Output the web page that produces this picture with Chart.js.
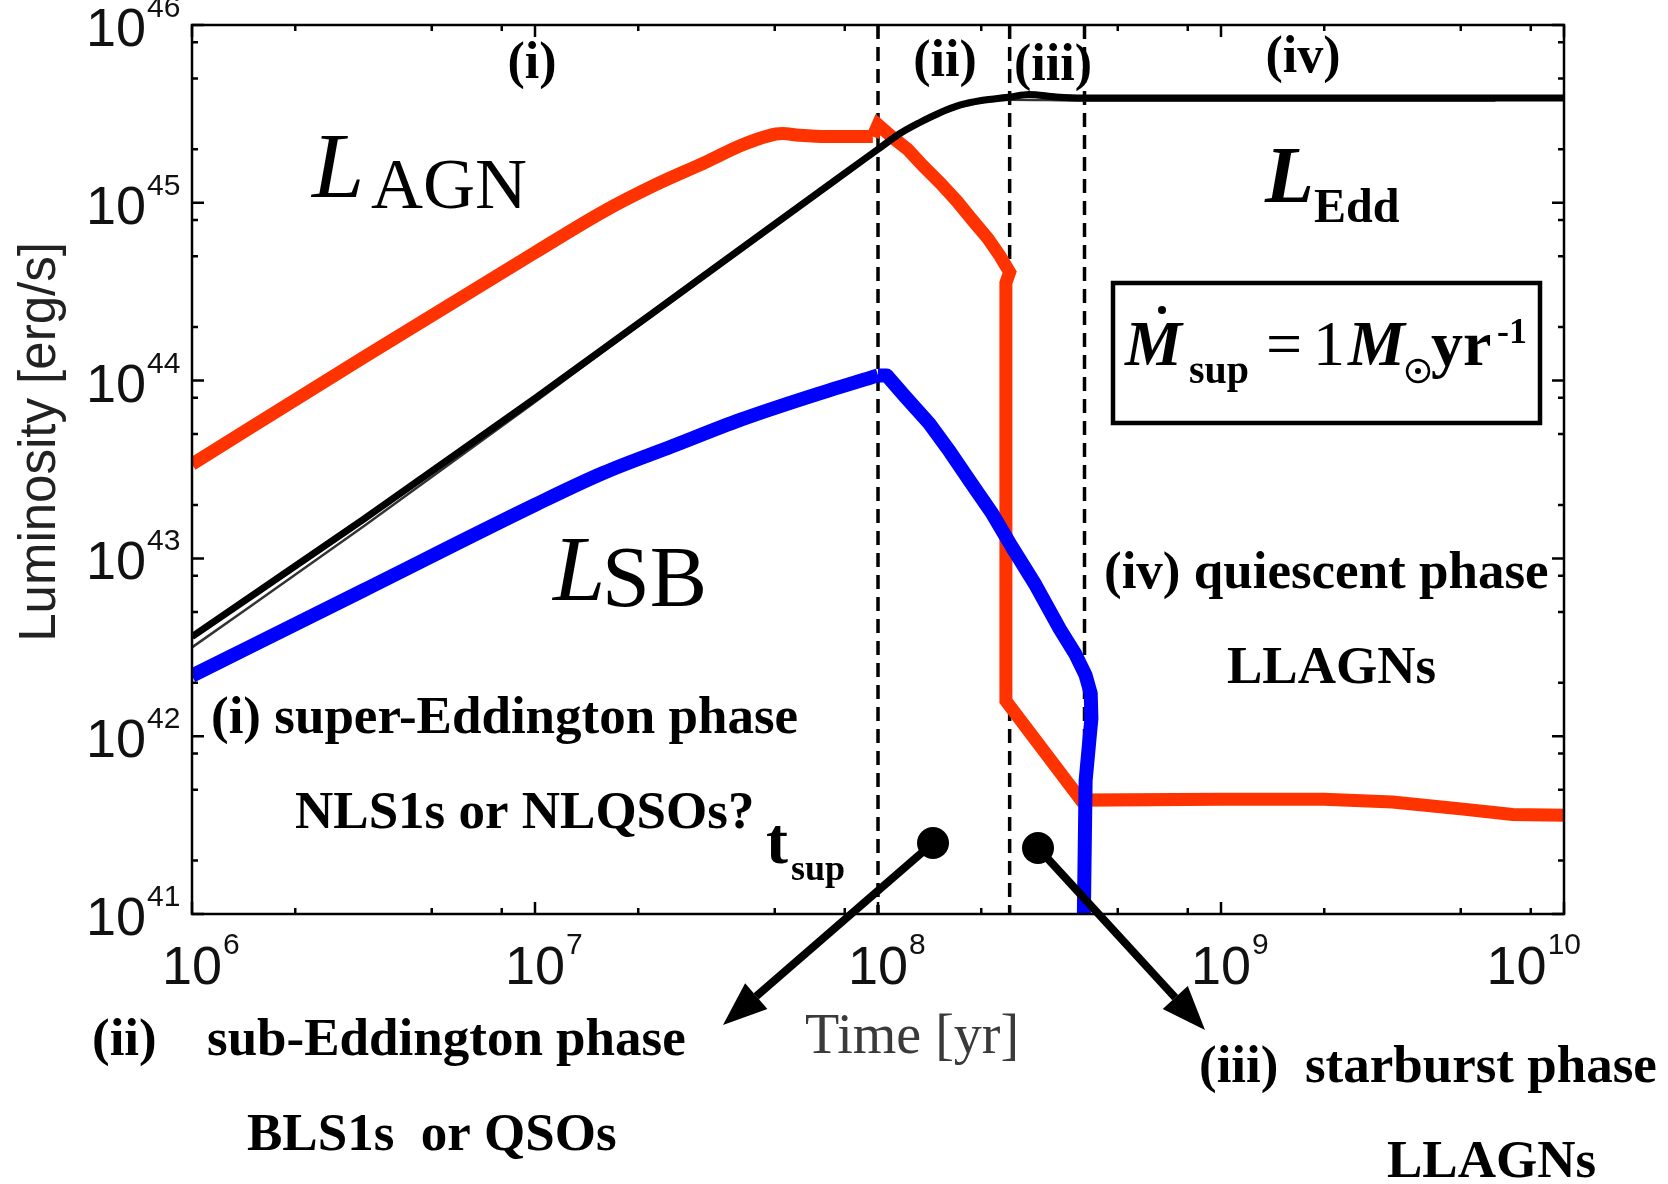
<!DOCTYPE html>
<html>
<head>
<meta charset="utf-8">
<script src="https://cdn.jsdelivr.net/npm/chart.js"></script>
<style>
  body { margin: 0; background: #fff; }
  canvas { display: block; }
</style>
</head>
<body>
<canvas id="myChart" width="1668" height="1184"></canvas>
<script>
// valores (tempo em anos, luminosidade em erg/s)
// L_AGN: subida suave ate t_sup, depois queda
var agnRiseTime = [1e6, 3.16e6, 1e7, 1.58e7, 2.24e7, 3.16e7, 3.98e7, 4.79e7, 5.25e7, 5.89e7, 7.08e7, 9.66e7]
var agnRiseLum = [3.39e43, 1.35e44, 5.25e44, 8.91e44, 1.26e45, 1.70e45, 2.1e45, 2.38e45, 2.45e45, 2.4e45, 2.36e45, 2.36e45]
var agnFallTime = [9.66e7, 1e8, 1.1e8, 1.22e8, 1.35e8, 1.52e8, 1.7e8, 1.89e8, 2.09e8, 2.27e8, 2.42e8, 2.36e8, 2.36e8, 3.91e8, 1e9, 2e9, 3.16e9, 5e9, 7.08e9, 1e10]
var agnFallLum = [2.36e45, 2.75e45, 2.34e45, 2.0e45, 1.62e45, 1.29e45, 1.02e45, 7.94e44, 6.31e44, 5.01e44, 4.07e44, 3.55e44, 1.58e42, 4.37e41, 4.42e41, 4.42e41, 4.27e41, 3.9e41, 3.63e41, 3.59e41]

// L_SB
var sbRiseTime = [1e6, 3.16e6, 1e7, 1.58e7, 2.51e7, 3.98e7, 6.31e7, 1e8]
var sbRiseLum = [2.19e42, 6.61e42, 2.0e43, 3.02e43, 4.27e43, 6.03e43, 8.13e43, 1.07e44]
var sbFallTime = [1e8, 1.06e8, 1.2e8, 1.41e8, 1.62e8, 1.86e8, 2.14e8, 2.45e8, 2.88e8, 3.39e8, 3.76e8, 4.03e8, 4.17e8, 4.19e8, 4.12e8, 4.03e8, 3.98e8]
var sbFallLum = [1.07e44, 1.07e44, 8.13e43, 5.75e43, 3.98e43, 2.69e43, 1.82e43, 1.17e43, 7.08e42, 4.0e42, 2.9e42, 2.2e42, 1.74e42, 1.26e42, 8.91e41, 5.62e41, 9e40]

// L_Edd (duas curvas quase sobrepostas)
var eddTime = [1e6, 3.16e6, 1e7, 3.16e7, 7.74e7, 1e8, 1.15e8, 1.32e8, 1.51e8, 1.74e8, 2.0e8, 2.43e8, 2.75e8, 3.31e8, 3.98e8, 1e10]
var eddLum = [3.63e42, 1.66e43, 7.94e43, 3.98e44, 1.40e45, 2.0e45, 2.43e45, 2.82e45, 3.2e45, 3.55e45, 3.76e45, 3.94e45, 4.07e45, 3.94e45, 3.89e45, 3.89e45]
var bhTime = [1e6, 3.16e6, 1e7, 3.16e7, 7.74e7, 1e8, 1.32e8, 1.74e8, 2.43e8, 3.98e8, 6.31e9]
var bhLum = [3.16e42, 1.51e43, 7.59e43, 3.89e44, 1.38e45, 1.97e45, 2.79e45, 3.47e45, 3.8e45, 3.76e45, 3.76e45]

// limites das fases (linhas tracejadas)
var fases = [1e8, 2.42e8, 4.0e8]

// ticks
var xMajor = [1e6, 1e7, 1e8, 1e9, 1e10]
var xExp = ['6', '7', '8', '9', '10']
var yMajor = [1e41, 1e42, 1e43, 1e44, 1e45, 1e46]
var yExp = ['41', '42', '43', '44', '45', '46']
var minorMult = [2, 5, 8]

function pares(xs, ys) {
  return xs.map(function (x, i) { return { x: x, y: ys[i] } })
}

var serif = '"Liberation Serif", "Times New Roman", serif'
var sans = '"Liberation Sans", Arial, sans-serif'

function texto(g, s, x, y, font, align) {
  g.font = font
  g.textAlign = align || 'left'
  g.textBaseline = 'alphabetic'
  g.fillText(s, x, y)
}

function seta(g, x0, y0, x1, y1) {
  var ang = Math.atan2(y1 - y0, x1 - x0)
  var len = 44, half = 17
  var bx = x1 - len * Math.cos(ang), by = y1 - len * Math.sin(ang)
  g.beginPath(); g.arc(x0, y0, 16, 0, 2 * Math.PI); g.fill()
  g.lineWidth = 8
  g.beginPath(); g.moveTo(x0, y0); g.lineTo(bx, by); g.stroke()
  g.beginPath()
  g.moveTo(x1, y1)
  g.lineTo(bx + half * Math.sin(ang), by - half * Math.cos(ang))
  g.lineTo(bx - half * Math.sin(ang), by + half * Math.cos(ang))
  g.closePath(); g.fill()
}

var moldura = {
  id: 'moldura',
  beforeDatasetsDraw: function (chart) {
    var g = chart.ctx, a = chart.chartArea, sx = chart.scales.x
    g.save()
    g.strokeStyle = '#000'
    g.lineWidth = 3.5
    g.setLineDash([14, 8])
    fases.forEach(function (t) {
      var px = sx.getPixelForValue(t)
      g.beginPath(); g.moveTo(px, a.top); g.lineTo(px, a.bottom); g.stroke()
    })
    g.restore()
    g.miterLimit = 4
  },
  afterDatasetsDraw: function (chart) {
    var g = chart.ctx, a = chart.chartArea
    var sx = chart.scales.x, sy = chart.scales.y
    g.save()
    g.setLineDash([])
    g.strokeStyle = '#000'
    g.fillStyle = '#000'
    g.lineWidth = 2.5
    g.strokeRect(a.left, a.top, a.right - a.left, a.bottom - a.top)

    // ticks para dentro, nos quatro lados
    g.beginPath()
    xMajor.forEach(function (v, i) {
      var px = sx.getPixelForValue(v)
      g.moveTo(px, a.bottom); g.lineTo(px, a.bottom - 12)
      g.moveTo(px, a.top); g.lineTo(px, a.top + 12)
      if (i < xMajor.length - 1) minorMult.forEach(function (m) {
        var q = sx.getPixelForValue(v * m)
        g.moveTo(q, a.bottom); g.lineTo(q, a.bottom - 6)
        g.moveTo(q, a.top); g.lineTo(q, a.top + 6)
      })
    })
    yMajor.forEach(function (v, i) {
      var py = sy.getPixelForValue(v)
      g.moveTo(a.left, py); g.lineTo(a.left + 12, py)
      g.moveTo(a.right, py); g.lineTo(a.right - 12, py)
      if (i < yMajor.length - 1) minorMult.forEach(function (m) {
        var q = sy.getPixelForValue(v * m)
        g.moveTo(a.left, q); g.lineTo(a.left + 6, q)
        g.moveTo(a.right, q); g.lineTo(a.right - 6, q)
      })
    })
    g.stroke()

    // rótulos dos ticks
    g.fillStyle = '#111'
    var fBase = '54px ' + sans, fExp = '30px ' + sans
    xMajor.forEach(function (v, i) {
      var px = sx.getPixelForValue(v)
      g.font = fBase
      var w10 = g.measureText('10').width
      g.font = fExp
      var we = g.measureText(xExp[i]).width
      var x0 = px - w10 / 2
      if (x0 + w10 + we > a.right + 16) x0 = a.right + 16 - w10 - we
      texto(g, '10', x0, 984, fBase)
      texto(g, xExp[i], x0 + w10 + 1, 954, fExp)
    })
    yMajor.forEach(function (v, i) {
      var py = sy.getPixelForValue(v)
      texto(g, '10', 146, py + 21, fBase, 'right')
      texto(g, yExp[i], 147, py - 8, fExp)
    })

    // título do eixo y
    g.save()
    g.translate(41, 442)
    g.rotate(-Math.PI / 2)
    g.fillStyle = '#222'
    g.font = '51px ' + sans
    g.textAlign = 'center'
    g.textBaseline = 'middle'
    g.fillText('Luminosity [erg/s]', 0, 0)
    g.restore()

    // título do eixo x
    g.fillStyle = '#3a3a3a'
    texto(g, 'Time [yr]', 805, 1053, '56px ' + serif)

    g.fillStyle = '#000'
    var bold = 'bold 53px ' + serif
    // fases no topo
    var fTop = 'bold 52px ' + serif
    texto(g, '(i)', 532, 78, fTop, 'center')
    texto(g, '(ii)', 945, 76, fTop, 'center')
    texto(g, '(iii)', 1053, 80, fTop, 'center')
    texto(g, '(iv)', 1303, 72, fTop, 'center')

    // nomes das curvas
    texto(g, 'L', 312, 197, 'italic 94px ' + serif)
    texto(g, 'AGN', 371, 208, '72px ' + serif)
    texto(g, 'L', 553, 600, 'italic 94px ' + serif)
    texto(g, 'SB', 602, 606, '86px ' + serif)
    texto(g, 'L', 1265, 202, 'bold italic 80px ' + serif)
    texto(g, 'Edd', 1314, 222, 'bold 48px ' + serif)

    // caixa com a taxa de suprimento
    g.lineWidth = 4.5
    g.strokeRect(1113, 283, 427, 140)
    texto(g, 'M', 1125, 365, 'bold italic 64px ' + serif)
    g.beginPath(); g.arc(1162, 310, 4, 0, 2 * Math.PI); g.fill()
    texto(g, 'sup', 1189, 383, 'bold 40px ' + serif)
    texto(g, '=', 1266, 365, '64px ' + serif)
    texto(g, '1', 1313, 365, '64px ' + serif)
    texto(g, 'M', 1348, 365, 'bold italic 64px ' + serif)
    g.lineWidth = 2.5
    g.beginPath(); g.arc(1418, 371, 11, 0, 2 * Math.PI); g.stroke()
    g.beginPath(); g.arc(1418, 371, 3, 0, 2 * Math.PI); g.fill()
    texto(g, 'yr', 1431, 365, 'bold 64px ' + serif)
    texto(g, '-1', 1497, 343, 'bold 36px ' + serif)

    // descrições das fases
    texto(g, '(iv) quiescent phase', 1104, 588, bold)
    texto(g, 'LLAGNs', 1227, 683, bold)
    texto(g, '(i) super-Eddington phase', 211, 733, bold)
    texto(g, 'NLS1s or NLQSOs?', 295, 828, bold)
    texto(g, 't', 766, 863, 'bold 66px ' + serif)
    texto(g, 'sup', 791, 880, 'bold 36px ' + serif)
    texto(g, '(ii)', 92, 1055, bold)
    texto(g, 'sub-Eddington phase', 207, 1055, bold)
    texto(g, 'BLS1s  or QSOs', 247, 1150, bold)
    texto(g, '(iii)  starburst phase', 1199, 1082, bold)
    texto(g, 'LLAGNs', 1387, 1177, bold)

    // setas
    g.strokeStyle = '#000'
    g.fillStyle = '#000'
    seta(g, 933, 843, 723, 1025)
    seta(g, 1038, 848, 1205, 1030)
    g.restore()
  }
}

var canvasEl = document.getElementById('myChart')

var vermelho = '#ff3300'
var azul = '#0000ff'

var data = {
  datasets: [
    { label: 'L_Edd', data: pares(eddTime, eddLum), borderColor: '#000', borderWidth: 7, cubicInterpolationMode: 'monotone' },
    { label: 'BH', data: pares(bhTime, bhLum), borderColor: '#333', borderWidth: 2.5, cubicInterpolationMode: 'monotone' },
    { label: 'L_SB', data: pares(sbRiseTime, sbRiseLum), borderColor: azul, borderWidth: 14, cubicInterpolationMode: 'monotone' },
    { label: 'L_SB queda', data: pares(sbFallTime, sbFallLum), borderColor: azul, borderWidth: 14 },
    { label: 'L_AGN', data: pares(agnRiseTime, agnRiseLum), borderColor: vermelho, borderWidth: 13, cubicInterpolationMode: 'monotone' },
    { label: 'L_AGN queda', data: pares(agnFallTime, agnFallLum), borderColor: vermelho, borderWidth: 13, borderJoinStyle: 'miter' }
  ]
}

var config = {
  type: 'line',
  data: data,
  options: {
    responsive: false,
    animation: false,
    devicePixelRatio: 1,
    layout: { padding: { left: 192, right: 104, top: 25, bottom: 270 } },
    elements: {
      point: { radius: 0 },
      line: { tension: 0, borderCapStyle: 'butt', borderJoinStyle: 'round', fill: false }
    },
    plugins: { legend: { display: false }, tooltip: { enabled: false } },
    scales: {
      x: { type: 'logarithmic', min: 1e6, max: 1e10, display: false },
      y: { type: 'logarithmic', min: 1e41, max: 1e46, display: false }
    }
  },
  plugins: [moldura]
}

var myChart = new Chart(canvasEl, config)
</script>
</body>
</html>
